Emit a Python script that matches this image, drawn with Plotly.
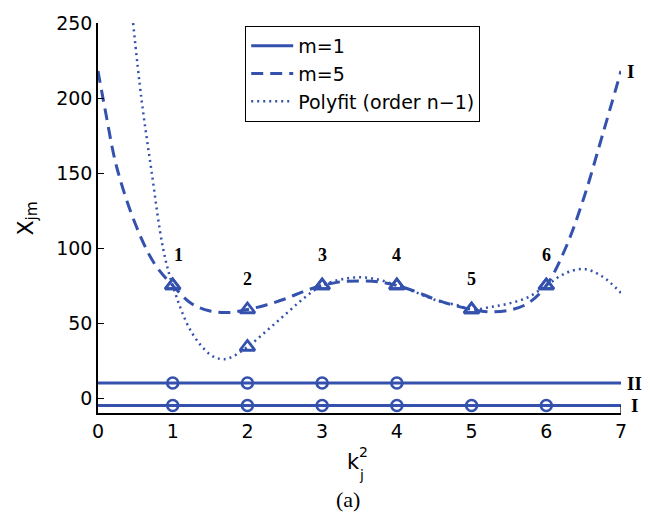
import plotly.graph_objects as go

# ---- data -------------------------------------------------------------
k_idx = [1, 2, 3, 4, 5, 6]
k_labels = ["1", "2", "3", "4", "5", "6"]

# m = 1 : two flat branches (II upper, I lower)
m1_line_x = [0, 7]
m1_II_value = 10
m1_I_value = -5
m1_II_k = [1, 2, 3, 4]
m1_I_k = [1, 2, 3, 4, 5, 6]

# m = 5 : sampled curve and its values at the integer k_j^2
m5_x = [0, 0.1, 0.25, 0.5, 0.75, 1, 1.25, 1.5, 1.75, 2, 2.25, 2.5, 2.75, 3,
        3.25, 3.5, 3.75, 4, 4.25, 4.5, 4.75, 5, 5.25, 5.5, 5.75, 6, 6.25,
        6.5, 6.75, 7]
m5_y = [218, 191, 154, 116, 90, 75, 63, 58, 57, 59, 62, 66, 71, 75,
        77.5, 78, 77.5, 75, 71, 66, 62, 59, 57.5, 58.5, 63, 75, 99,
        133, 175, 218]
m5_pts = [75, 59, 75, 75, 59, 75]

# polynomial fit of order n-1
fit_x = [0.47, 0.58, 0.72, 0.87, 1, 1.25, 1.5, 1.64, 1.75, 2, 2.25, 2.5,
         2.75, 3, 3.25, 3.5, 3.75, 4, 4.2, 4.4, 4.6, 4.8, 5, 5.25, 5.5,
         5.75, 6, 6.25, 6.5, 6.75, 7]
fit_y = [250, 200, 150, 100, 75, 44, 29, 26, 26.5, 34, 44.5, 55.4,
         66.3, 75, 79, 80.5, 79, 75, 71.5, 67.5, 64, 62, 59, 60.6, 63,
         67, 75, 83, 86, 81, 70]
fit_pts = [75, 34, 75, 75, 59, 75]

x_range = [0, 7]
y_range = [-10, 250]
y_ticks = [0, 50, 100, 150, 200, 250]
x_ticks = [0, 1, 2, 3, 4, 5, 6, 7]

# ---- style ------------------------------------------------------------
BLUE = "#3452ad"
SANS = "DejaVu Sans"
SERIF = "Liberation Serif"

fig = go.Figure()

# m = 1 branches
for val, ks, show in [(m1_II_value, m1_II_k, True), (m1_I_value, m1_I_k, False)]:
    fig.add_trace(go.Scatter(
        x=m1_line_x, y=[val] * len(m1_line_x), mode="lines", name="m=1",
        line=dict(color=BLUE, width=3), showlegend=show, legendgroup="m1"))
    fig.add_trace(go.Scatter(
        x=ks, y=[val] * len(ks), mode="markers", showlegend=False,
        marker=dict(symbol="circle-open", size=11, color=BLUE,
                    line=dict(color=BLUE, width=2.6))))

# m = 5 curve
fig.add_trace(go.Scatter(
    x=m5_x, y=m5_y, mode="lines", name="m=5", line_shape="spline",
    line=dict(color=BLUE, width=3, dash="12px,7px")))

# polyfit curve
fig.add_trace(go.Scatter(
    x=fit_x, y=fit_y, mode="lines", name="Polyfit (order n\u22121)",
    line_shape="spline",
    line=dict(color=BLUE, width=2.5, dash="2px,4px")))

# triangle markers
for pts in (m5_pts, fit_pts):
    fig.add_trace(go.Scatter(
        x=k_idx, y=pts, mode="markers", showlegend=False,
        marker=dict(symbol="triangle-up-open", size=13, color=BLUE,
                    line=dict(color=BLUE, width=2.8))))

annotations = []
# index labels above the m = 5 points
for kk, lab, v in zip(k_idx, k_labels, m5_pts):
    annotations.append(dict(
        x=kk, y=v, text=f"<b>{lab}</b>", showarrow=False,
        xshift=6 if kk == 1 else 0, yshift=31,
        font=dict(family=SERIF, size=18, color="black")))

# branch labels at the right edge
for v, lab, dx in [(m5_y[-1], "I", 9), (m1_II_value, "II", 13), (m1_I_value, "I", 13)]:
    annotations.append(dict(
        x=x_range[1], y=v, text=f"<b>{lab}</b>", showarrow=False,
        xanchor="center", xshift=dx,
        font=dict(family=SERIF, size=19, color="black")))

L, R, T, B = 97.5, 28.5, 17, 100
W, H = 650, 513
pw, ph = W - L - R, H - T - B


def px(xp, yp):
    return (xp - L) / pw, (H - B - yp) / ph


# y-axis title
ax, ay = px(27, 216)
annotations.append(dict(
    x=ax, y=ay, xref="paper", yref="paper", text="X<sub>jm</sub>",
    textangle=-90, showarrow=False, xanchor="center", yanchor="middle",
    font=dict(family=SANS, size=22, color="black")))

# x-axis title: k with stacked sub/superscript
for txt, (xp, yp), size in [("k", (353.5, 463), 21), ("2", (363.5, 453), 14),
                            ("j", (362, 476), 14)]:
    xx, yy = px(xp, yp)
    annotations.append(dict(
        x=xx, y=yy, xref="paper", yref="paper", text=txt, showarrow=False,
        xanchor="center", yanchor="middle",
        font=dict(family=SANS, size=size, color="black")))

# panel caption
cx, cy = px(348, 501)
annotations.append(dict(
    x=cx, y=cy, xref="paper", yref="paper", text="(a)", showarrow=False,
    xanchor="center", yanchor="middle",
    font=dict(family=SERIF, size=22, color="black")))

lx, ly = px(245, 20)

fig.update_layout(
    width=W, height=H,
    margin=dict(l=L, r=R, t=T, b=B),
    paper_bgcolor="white", plot_bgcolor="white",
    showlegend=True,
    legend=dict(x=lx, y=ly, xanchor="left", yanchor="top",
                bgcolor="white", bordercolor="black", borderwidth=1,
                font=dict(family=SANS, size=19, color="black"),
                itemwidth=42, tracegroupgap=0),
    annotations=annotations,
    shapes=[dict(type="line", xref="x", yref="y", x0=x_range[1], x1=x_range[1],
                 y0=y_range[0], y1=m1_I_value, line=dict(color="black", width=1.2))],
)

fig.update_xaxes(range=x_range, tickvals=x_ticks, ticks="", showgrid=False,
                 zeroline=False, showline=True, linecolor="black", linewidth=1.5,
                 tickfont=dict(family=SANS, size=19, color="black"))
fig.update_yaxes(range=y_range, tickvals=y_ticks, ticks="inside", ticklen=6,
                 tickwidth=1.2, tickcolor="black", showgrid=False,
                 zeroline=False, showline=True, linecolor="black", linewidth=1.5,
                 tickfont=dict(family=SANS, size=19, color="black"))

fig.write_html("out.html")
